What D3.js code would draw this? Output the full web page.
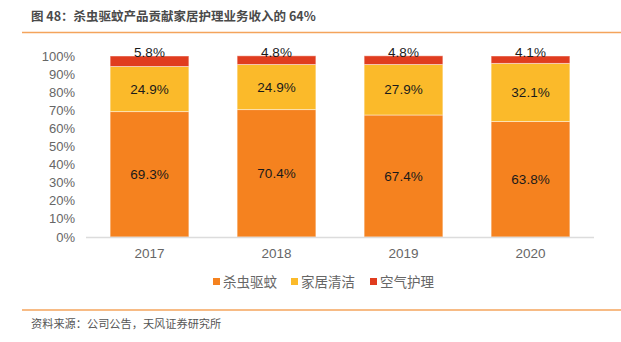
<!DOCTYPE html>
<html><head><meta charset="utf-8">
<script src="https://cdn.jsdelivr.net/npm/d3@7"></script>
<style>
html,body{margin:0;padding:0;background:#fff;}
svg{display:block;font-family:"Noto Sans CJK SC","Liberation Sans",sans-serif;}
</style></head>
<body><svg id="c" width="621" height="342"></svg>
<script>
const years = ["2017","2018","2019","2020"];
const seriesNames = ["杀虫驱蚊","家居清洁","空气护理"];
const insect = [69.3, 70.4, 67.4, 63.8];
const cleaning = [24.9, 24.9, 27.9, 32.1];
const air = [5.8, 4.8, 4.8, 4.1];
const yTicks = [0,10,20,30,40,50,60,70,80,90,100];
const colors = ["#F5821F","#FBBA2A","#E03C1F"];
const titleText = "图 48：杀虫驱蚊产品贡献家居护理业务收入的 64%";
const sourceText = "资料来源：公司公告，天风证券研究所";

const svg = d3.select("#c");
const table = years.map((y,i)=>({year:y, [seriesNames[0]]:insect[i], [seriesNames[1]]:cleaning[i], [seriesNames[2]]:air[i]}));
const stack = d3.stack().keys(seriesNames)(table);

const x = d3.scaleBand().domain(years).range([86,594]).paddingInner(0.38).paddingOuter(0.19);
const y = d3.scaleLinear().domain([0,100]).range([237,56]);

// title
svg.append("text").attr("x",31).attr("y",21).attr("font-size",12.5).attr("font-weight","bold").attr("fill","#4a4a4a").text(titleText);
svg.append("line").attr("x1",22).attr("x2",621).attr("y1",32.5).attr("y2",32.5).attr("stroke","#F4A45C").attr("stroke-width",1.5);

// y axis labels
svg.append("g").selectAll("text").data(yTicks).join("text")
  .attr("x",75).attr("y",d=>y(d)).attr("dy","0.35em").attr("text-anchor","end")
  .attr("font-family","Liberation Sans, Arial, sans-serif").attr("font-size",13).attr("fill","#666")
  .text(d=>d+"%");

// bars
const g = svg.append("g");
stack.forEach((s,si)=>{
  g.append("g").selectAll("rect").data(s).join("rect")
    .attr("x",d=>x(d.data.year)).attr("width",x.bandwidth())
    .attr("y",d=>y(d[1])).attr("height",d=>y(d[0])-y(d[1]))
    .attr("fill",colors[si]).attr("stroke","rgba(255,255,255,0.45)").attr("stroke-width",1);
});

// baseline
svg.append("line").attr("x1",86).attr("x2",594).attr("y1",y(0)+0.5).attr("y2",y(0)+0.5).attr("stroke","#dcdcdc").attr("stroke-width",1.5);

// labels
stack.forEach((s,si)=>{
  svg.append("g").selectAll("text").data(s).join("text")
    .attr("x",d=>x(d.data.year)+x.bandwidth()/2)
    .attr("y",d=> si===2 ? y(d[1])-4 : (y(d[0])+y(d[1]))/2)
    .attr("dy","0.35em").attr("text-anchor","middle")
    .attr("font-family","Liberation Sans, Arial, sans-serif").attr("font-size",13.5).attr("fill","#1a1a1a")
    .text(d=>(d[1]-d[0]).toFixed(1)+"%");
});

// x labels
svg.append("g").selectAll("text").data(years).join("text")
  .attr("x",d=>x(d)+x.bandwidth()/2).attr("y",253).attr("dy","0.35em").attr("text-anchor","middle")
  .attr("font-family","Liberation Sans, Arial, sans-serif").attr("font-size",13.5).attr("fill","#666").text(d=>d);

// legend
const legX = [213, 291, 370];
const leg = svg.append("g");
seriesNames.forEach((n,i)=>{
  leg.append("rect").attr("x",legX[i]).attr("y",278).attr("width",7).attr("height",7).attr("fill",colors[i]);
  leg.append("text").attr("x",legX[i]+10).attr("y",282).attr("dy","0.35em").attr("font-size",13.5).attr("fill","#666").text(n);
});

// source
svg.append("line").attr("x1",22).attr("x2",621).attr("y1",310).attr("y2",310).attr("stroke","#F4A45C").attr("stroke-width",1.5);
svg.append("text").attr("x",31).attr("y",328).attr("font-size",11.2).attr("fill","#555").text(sourceText);
</script></body></html>
